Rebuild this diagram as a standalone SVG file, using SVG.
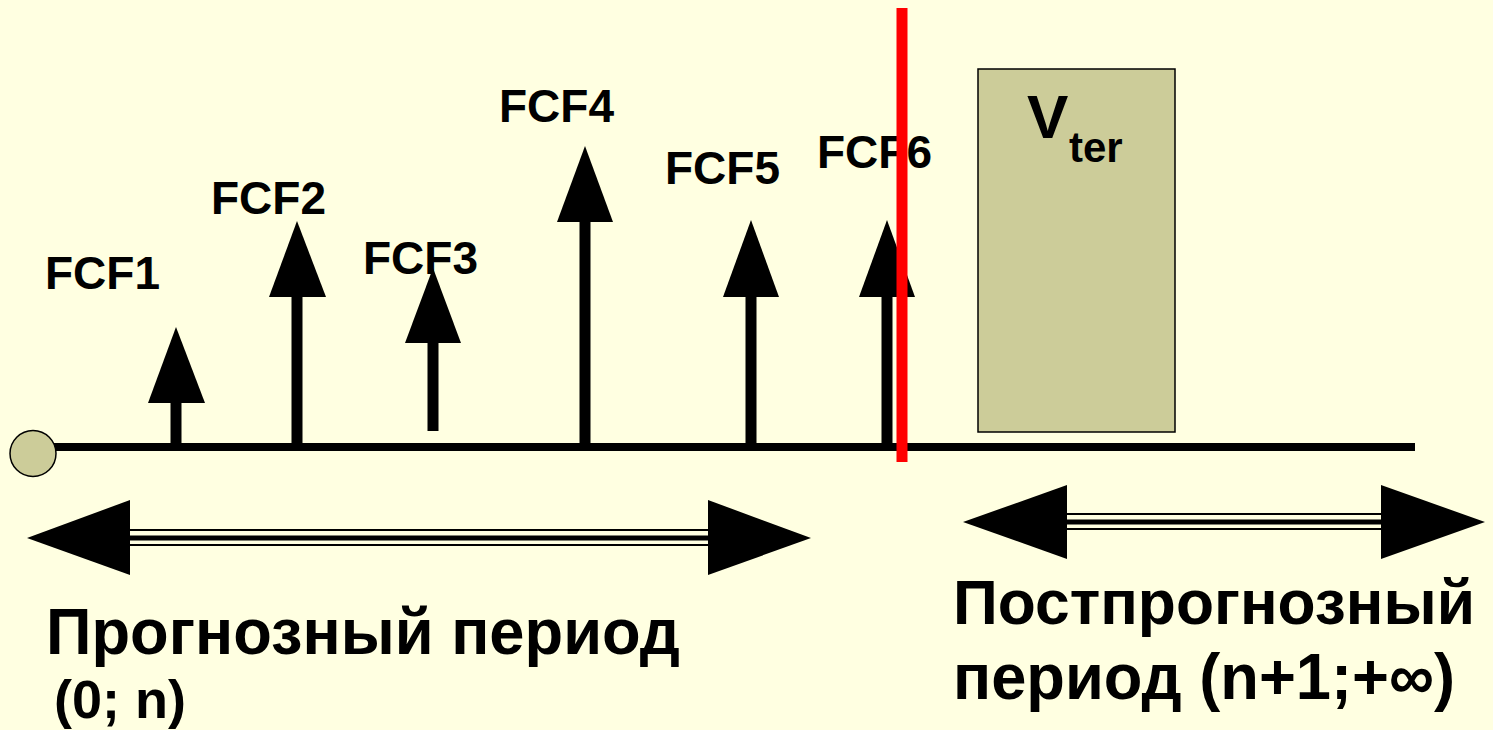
<svg xmlns="http://www.w3.org/2000/svg" width="1493" height="730" viewBox="0 0 1493 730">
<style>
.lbl{font-family:"Liberation Sans",Arial,sans-serif;font-weight:bold;fill:#000}
.fcf{font-size:46px}
.big{font-size:65px}
.head{fill:#000}
.stem{stroke:#000;stroke-width:11;fill:none}
.thin{stroke:#000;stroke-width:2}
.thick{stroke:#000;stroke-width:5}
</style>
<rect x="0" y="0" width="1493" height="730" fill="#FFFFE1"/>
<g id="connectors">
  <line x1="50" y1="447" x2="1415" y2="447" stroke="#000" stroke-width="8"/>
  <g id="cf1"><line class="stem" x1="176" y1="447" x2="176" y2="402"/><polygon class="head" points="148,403 205,403 176,327"/></g>
  <g id="cf2"><line class="stem" x1="297" y1="447" x2="297" y2="296"/><polygon class="head" points="269,297 326,297 297,221"/></g>
  <g id="cf3"><line class="stem" x1="433" y1="431" x2="433" y2="342"/><polygon class="head" points="405,343 461,343 433,268"/></g>
  <g id="cf4"><line class="stem" x1="585" y1="447" x2="585" y2="221"/><polygon class="head" points="557,222 613,222 585,146"/></g>
  <g id="cf5"><line class="stem" x1="751" y1="447" x2="751" y2="296"/><polygon class="head" points="723,297 779,297 751,220"/></g>
  <g id="cf6"><line class="stem" x1="887" y1="447" x2="887" y2="296"/><polygon class="head" points="859,297 915,297 887,220"/></g>
  <g id="forecast-span">
    <polygon class="head" points="27,538 130,500 130,575"/>
    <polygon class="head" points="811,538 708,500 708,575"/>
    <line class="thin" x1="130" y1="530" x2="708" y2="530"/>
    <line class="thick" x1="130" y1="538" x2="708" y2="538"/>
    <line class="thin" x1="130" y1="545" x2="708" y2="545"/>
  </g>
  <g id="post-span">
    <polygon class="head" points="963,522 1067,485 1067,559"/>
    <polygon class="head" points="1485,522 1381,485 1381,559"/>
    <line class="thin" x1="1067" y1="514" x2="1381" y2="514"/>
    <line class="thick" x1="1067" y1="522" x2="1381" y2="522"/>
    <line class="thin" x1="1067" y1="529" x2="1381" y2="529"/>
  </g>
</g>
<g id="origin"><circle cx="33" cy="453.5" r="23" fill="#CCCC99" stroke="#000" stroke-width="1.5"/></g>
<g id="labels">
  <text class="lbl fcf" x="45" y="289">FCF1</text>
  <text class="lbl fcf" x="211" y="214">FCF2</text>
  <text class="lbl fcf" x="363" y="274">FCF3</text>
  <text class="lbl fcf" x="499" y="122">FCF4</text>
  <text class="lbl fcf" x="665" y="184">FCF5</text>
  <text class="lbl fcf" x="817" y="168">FCF6</text>
</g>
<g id="terminal">
  <rect x="978" y="69" width="197" height="363" fill="#CCCC99" stroke="#000" stroke-width="1.5"/>
  <text class="lbl" x="1027" y="138" font-size="62">V</text>
  <text class="lbl" x="1069" y="162" font-size="42">ter</text>
</g>
<g id="divider"><line x1="902" y1="8" x2="902" y2="462" stroke="#FF0000" stroke-width="11"/></g>
<g id="forecast-label">
  <text class="lbl big" x="46" y="654" textLength="634" lengthAdjust="spacingAndGlyphs">Прогнозный период</text>
  <text class="lbl" x="54" y="718" font-size="54">(0; n)</text>
</g>
<g id="post-label">
  <text class="lbl" x="953" y="624" font-size="63" textLength="522" lengthAdjust="spacingAndGlyphs">Постпрогнозный</text>
  <text class="lbl big" x="953" y="699" textLength="502" lengthAdjust="spacingAndGlyphs">период (n+1;+∞)</text>
</g>
</svg>
